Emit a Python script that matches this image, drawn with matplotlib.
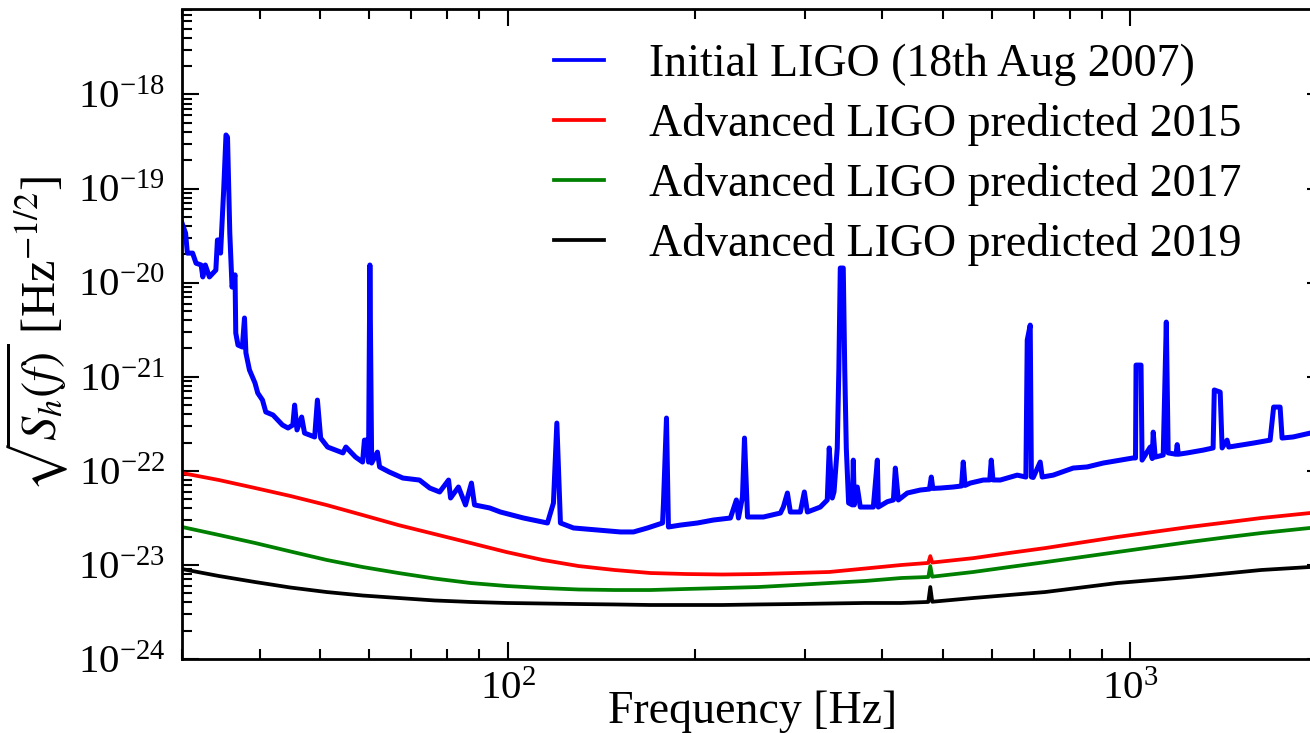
import matplotlib
matplotlib.use("Agg")
import matplotlib.pyplot as plt
from matplotlib.ticker import LogLocator, NullFormatter

plt.rcParams['font.family'] = ['Liberation Serif', 'DejaVu Serif']
plt.rcParams['mathtext.fontset'] = 'stix'

# ---------------- data ----------------
# Initial LIGO (18th Aug 2007) amplitude spectral density
ligo_freq = [30, 30.4, 30.6, 31.2, 31.6, 32.2, 32.4, 32.7, 33.2, 34.0, 34.2, 34.5, 34.6,
             35.0, 35.3, 35.5, 35.8, 36.1, 36.5, 36.6, 36.9, 37.5, 37.8, 38.0, 38.5,
             39.3, 39.7, 40.4, 40.9, 42.0, 43.5, 44.4, 45.2, 45.5, 45.9, 46.7, 47.2,
             49.0, 49.5, 50.1, 51.4, 54.4, 55.0, 57.0, 58.5, 58.9, 59.4, 59.8, 60.1,
             60.5, 61.8, 62.3, 64.6, 67.9, 72.2, 75.0, 77.8, 80.4, 81.0, 83.4, 85.6,
             87.5, 88.5, 93.6, 97.4, 106.1, 115.9, 118.5, 120.0, 121.6, 127.6, 139.5,
             151.8, 159.3, 167.8, 177.4, 178.0, 180.0, 181.3, 189.5, 201.8, 214.1,
             228.0, 233.1, 234.9, 238.4, 240.2, 242.9, 257.6, 274.3, 277.3, 281.5,
             284.6, 295.3, 299.7, 303.1, 317.9, 326.2, 328.6, 332.3, 334.5, 338.5,
             340.5, 342.3, 346.1, 348.0, 350.0, 353.0, 357.9, 359.2, 360.5, 364.5,
             368.6, 386.8, 392.6, 394.0, 407.4, 416.6, 419.6, 424.3, 438.6, 460.2,
             476.0, 479.3, 482.0, 495.5, 519.8, 536.0, 539.4, 543.0, 553.6, 580.8,
             595.0, 598.3, 602.0, 618.5, 658.6, 680.0, 683.4, 691.0, 694.0, 698.7,
             717.0, 722.3, 752.3, 809.9, 853.1, 905.1, 963.7, 1011, 1020, 1022, 1041,
             1045, 1077, 1085, 1089, 1097, 1130, 1143, 1151, 1185, 1190, 1195, 1235,
             1310, 1359, 1365, 1395, 1405, 1431, 1440, 1576, 1678, 1700, 1741, 1754,
             1827, 1945, 2048]
ligo_asd = [4.30e-20, 3.36e-20, 2.06e-20, 2.06e-20, 1.61e-20, 1.54e-20, 1.15e-20, 1.54e-20,
            1.15e-20, 1.36e-20, 2.84e-20, 2.84e-20, 2.06e-20,
            9.64e-20, 3.71e-19, 3.52e-19, 3.36e-20, 8.97e-21, 1.21e-20, 2.91e-21, 2.17e-21,
            2.07e-21, 4.21e-21, 1.79e-21, 1.18e-21,
            8.57e-22, 6.71e-22, 5.65e-22, 4.22e-22, 3.92e-22, 3.07e-22, 2.85e-22, 3.07e-22,
            5.00e-22, 2.72e-22, 3.73e-22, 2.52e-22,
            2.29e-22, 5.65e-22, 2.23e-22, 1.79e-22, 1.55e-22, 1.79e-22, 1.40e-22, 1.24e-22,
            2.12e-22, 2.12e-22, 1.24e-22, 1.54e-20,
            1.21e-22, 1.58e-22, 1.10e-22, 9.70e-23, 8.38e-23, 7.98e-23, 6.56e-23, 5.96e-23,
            7.98e-23, 5.14e-23, 6.73e-23, 4.34e-23,
            7.41e-23, 4.34e-23, 4.03e-23, 3.65e-23, 3.15e-23, 2.79e-23, 4.55e-23, 3.22e-22,
            2.79e-23, 2.47e-23, 2.35e-23,
            2.24e-23, 2.24e-23, 2.47e-23, 2.79e-23, 4.55e-23, 3.64e-22, 2.53e-23, 2.65e-23,
            2.79e-23, 3.00e-23,
            3.15e-23, 4.90e-23, 3.15e-23, 5.27e-23, 2.23e-22, 3.23e-23, 3.23e-23, 3.56e-23,
            4.12e-23, 5.81e-23,
            3.65e-23, 3.65e-23, 5.96e-23, 3.65e-23, 4.12e-23, 4.90e-23, 1.75e-22, 5.14e-23,
            6.00e-23, 1.75e-22,
            1.20e-21, 1.43e-20, 1.43e-20, 1.20e-21, 1.75e-22, 4.55e-23, 4.34e-23, 1.30e-22,
            4.34e-23, 6.73e-23,
            4.12e-23, 4.12e-23, 1.30e-22, 4.12e-23, 4.70e-23, 4.90e-23, 1.07e-22, 4.90e-23,
            5.81e-23, 6.25e-23,
            6.40e-23, 8.59e-23, 6.50e-23, 6.56e-23, 6.73e-23, 6.90e-23, 1.24e-22, 7.00e-23,
            7.41e-23, 7.98e-23,
            8.00e-23, 1.30e-22, 8.00e-23, 7.98e-23, 9.00e-23, 8.59e-23, 2.45e-21, 3.54e-21,
            8.60e-23, 8.50e-23,
            1.24e-22, 8.59e-23, 9.00e-23, 1.07e-22, 1.10e-22, 1.21e-22, 1.30e-22, 1.37e-22,
            1.37e-22, 1.33e-21, 1.33e-21,
            1.30e-22, 1.79e-22, 1.35e-22, 2.58e-22, 1.40e-22, 1.47e-22, 3.81e-21, 1.55e-22,
            1.50e-22, 1.90e-22, 1.50e-22, 1.55e-22,
            1.66e-22, 1.75e-22, 7.23e-22, 6.87e-22, 1.75e-22, 2.12e-22, 1.79e-22, 1.97e-22,
            2.12e-22, 4.76e-22, 4.76e-22, 2.23e-22,
            2.29e-22, 2.52e-22, 2.65e-22]

# Advanced LIGO predicted sensitivities
adv_freq = [30.0, 34.4, 39.3, 44.8, 51.2, 58.5, 66.8, 76.3, 87.2, 99.6, 113.8, 130.0,
            148.5, 169.6, 193.8, 221.3, 252.9, 288.8, 328.6, 375.5, 429.0, 474.0, 477.5,
            481.0, 559.8, 639.5, 730.4, 834.2, 953.1, 1089, 1244, 1421, 1623, 1945, 2048]
adv_2015 = [9.48e-23, 7.98e-23, 6.57e-23, 5.40e-23, 4.33e-23, 3.39e-23, 2.65e-23, 2.13e-23,
            1.71e-23, 1.37e-23, 1.13e-23, 9.73e-24, 8.83e-24, 8.20e-24, 8.00e-24, 7.91e-24,
            8.00e-24, 8.20e-24, 8.41e-24, 9.16e-24, 9.98e-24, 1.05e-23, 1.24e-23, 1.06e-23,
            1.18e-23, 1.34e-23, 1.51e-23, 1.73e-23, 1.98e-23, 2.24e-23, 2.53e-23, 2.82e-23,
            3.15e-23, 3.56e-23, 3.74e-23]
adv_2017 = [2.53e-23, 2.08e-23, 1.71e-23, 1.39e-23, 1.13e-23, 9.50e-24, 8.20e-24, 7.17e-24,
            6.42e-24, 5.97e-24, 5.68e-24, 5.48e-24, 5.41e-24, 5.41e-24, 5.55e-24, 5.68e-24,
            5.82e-24, 6.11e-24, 6.42e-24, 6.75e-24, 7.26e-24, 7.44e-24, 9.73e-24, 7.50e-24,
            8.41e-24, 9.50e-24, 1.07e-23, 1.21e-23, 1.37e-23, 1.55e-23, 1.75e-23, 1.96e-23,
            2.18e-23, 2.47e-23, 2.59e-23]
adv_2019 = [9.04e-24, 7.62e-24, 6.58e-24, 5.75e-24, 5.15e-24, 4.73e-24, 4.45e-24, 4.19e-24,
            4.04e-24, 3.94e-24, 3.89e-24, 3.84e-24, 3.80e-24, 3.75e-24, 3.75e-24, 3.75e-24,
            3.80e-24, 3.84e-24, 3.89e-24, 3.94e-24, 3.94e-24, 4.04e-24, 5.82e-24, 4.06e-24,
            4.45e-24, 4.79e-24, 5.15e-24, 5.75e-24, 6.42e-24, 6.91e-24, 7.44e-24, 8.10e-24,
            8.83e-24, 9.50e-24, 9.73e-24]

x_ticks = [1e2, 1e3]
y_ticks = [1e-24, 1e-23, 1e-22, 1e-21, 1e-20, 1e-19, 1e-18]

labels = ['Initial LIGO (18th Aug 2007)', 'Advanced LIGO predicted 2015',
          'Advanced LIGO predicted 2017', 'Advanced LIGO predicted 2019']
colors = ['#0000ff', '#ff0000', '#008000', '#000000']

# ---------------- figure ----------------
W, H = 1310, 733
fig = plt.figure(figsize=(W / 100, H / 100), dpi=100)
ax = fig.add_axes([182 / W, 74 / H, (1324 - 182) / W, 649.5 / H])

ax.plot(ligo_freq, ligo_asd, color=colors[0], lw=3.6, label=labels[0])
ax.plot(adv_freq, adv_2015, color=colors[1], lw=2.7, label=labels[1])
ax.plot(adv_freq, adv_2017, color=colors[2], lw=2.7, label=labels[2])
ax.plot(adv_freq, adv_2019, color=colors[3], lw=2.7, label=labels[3])

ax.set_xscale('log')
ax.set_yscale('log')
ax.set_xlim(30, 2048)
ax.set_ylim(1e-24, 8e-18)

ax.set_xticks(x_ticks)
ax.set_yticks(y_ticks)
ax.xaxis.set_minor_locator(LogLocator(base=10, subs=range(2, 10), numticks=50))
ax.yaxis.set_minor_locator(LogLocator(base=10, subs=range(2, 10), numticks=50))
ax.xaxis.set_minor_formatter(NullFormatter())
ax.yaxis.set_minor_formatter(NullFormatter())

ax.tick_params(which='both', direction='in', top=True, right=True, labelsize=29.5, width=1.5)
ax.tick_params(which='major', length=12)
ax.tick_params(which='minor', length=7)
ax.tick_params(axis='y', which='major', pad=12)
ax.tick_params(axis='x', which='major', pad=9)
for s in ax.spines.values():
    s.set_linewidth(2.0)

ax.set_xlabel('Frequency [Hz]', fontsize=33, labelpad=-13)
ax.set_ylabel(r'$\sqrt{S_h(f)}$ [Hz$^{-1/2}$]', fontsize=35, labelpad=5)

leg = ax.legend(loc='upper right', bbox_to_anchor=(0.928, 0.947), frameon=False,
                fontsize=33, handlelength=1.09, handletextpad=0.98, labelspacing=0.37,
                borderpad=0, borderaxespad=0)
for line in leg.get_lines():
    line.set_linewidth(2.7)

fig.savefig('out.png', dpi=100)
